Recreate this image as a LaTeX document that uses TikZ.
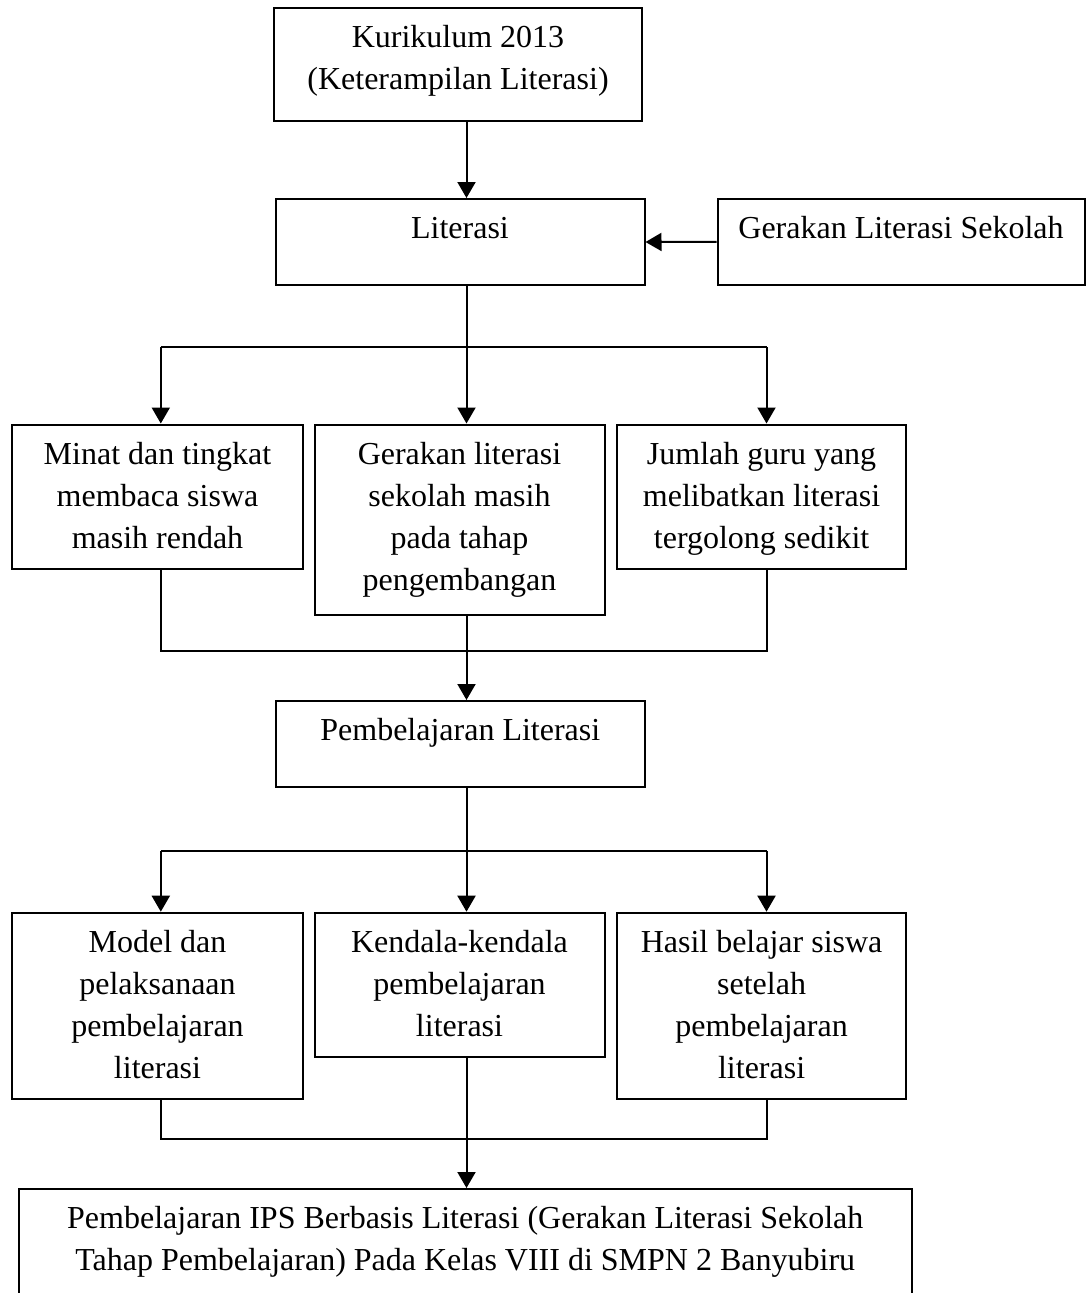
\documentclass[tikz,border=0pt]{standalone}
\usepackage{fontspec}
\setmainfont{Liberation Serif}
\usetikzlibrary{arrows.meta}
\newcommand{\bxt}[3]{\parbox[t][#2pt][t]{#1pt}{\centering\vspace*{10.1pt}\strut #3}}
\begin{document}
\begin{tikzpicture}[x=1pt,y=-1pt,
  box/.style={draw, line width=2pt, inner sep=0pt, font=\fontsize{32}{42}\selectfont},
  conn/.style={line width=2pt},
  arr/.style={line width=2pt, -{Triangle[length=16pt,width=18pt]}}]
\useasboundingbox (0,0) rectangle (1086,1293);

\node[box] (k13) at (458,64.5) {\bxt{368}{113}{Kurikulum 2013\\(Keterampilan Literasi)}};
\node[box] (lit) at (460,242) {\bxt{369}{86}{Literasi}};
\node[box] (gls) at (901,241.75) {\bxt{367}{86}{Gerakan Literasi Sekolah}};

\node[box] (minat) at (157.5,496.75) {\bxt{291}{144.5}{Minat dan tingkat\\membaca siswa\\masih rendah}};
\node[box] (mid) at (459.5,519.75) {\bxt{290}{190.5}{Gerakan literasi\\sekolah masih\\pada tahap\\pengembangan}};
\node[box] (jml) at (761.6,496.75) {\bxt{289.7}{144.5}{Jumlah guru yang\\melibatkan literasi\\tergolong sedikit}};

\node[box] (pl) at (460.3,744) {\bxt{369.3}{86}{Pembelajaran Literasi}};

\node[box] (model) at (157.5,1005.85) {\bxt{291}{186.3}{Model dan\\pelaksanaan\\pembelajaran\\literasi}};
\node[box] (kend) at (459.5,984.85) {\bxt{290}{144.3}{Kendala-kendala\\pembelajaran\\literasi}};
\node[box] (hasil) at (761.6,1005.85) {\bxt{289.7}{186.3}{Hasil belajar siswa\\setelah\\pembelajaran\\literasi}};

\node[box] (fin) at (465.25,1247) {\bxt{893.5}{116}{Pembelajaran IPS Berbasis Literasi (Gerakan Literasi Sekolah\\Tahap Pembelajaran) Pada Kelas VIII di SMPN 2 Banyubiru}};

\coordinate (c) at (466.5,0);
\coordinate (b1) at (160.8,347);
\coordinate (bm) at (466.5,347);
\coordinate (b3) at (766.5,347);
\coordinate (m1) at (160.8,651);
\coordinate (mm) at (466.5,651);
\coordinate (m3) at (766.5,651);
\coordinate (s1) at (160.8,851);
\coordinate (sm) at (466.5,851);
\coordinate (s3) at (766.5,851);
\coordinate (n1) at (160.8,1139);
\coordinate (nm) at (466.5,1139);
\coordinate (n3) at (766.5,1139);

\draw[arr] (k13.south -| c) -- (lit.north -| c);
\draw[arr] (gls.west) -- (lit.east);

\draw[conn] (lit.south -| c) -- (bm);
\draw[conn] (b1) -- (b3);
\draw[arr] (b1) -- (minat.north -| b1);
\draw[arr] (bm) -- (mid.north -| bm);
\draw[arr] (b3) -- (jml.north -| b3);

\draw[conn] (minat.south -| m1) -- (m1) -- (m3) -- (jml.south -| m3);
\draw[conn] (mid.south -| mm) -- (mm);
\draw[arr] (mm) -- (pl.north -| mm);

\draw[conn] (pl.south -| c) -- (sm);
\draw[conn] (s1) -- (s3);
\draw[arr] (s1) -- (model.north -| s1);
\draw[arr] (sm) -- (kend.north -| sm);
\draw[arr] (s3) -- (hasil.north -| s3);

\draw[conn] (model.south -| n1) -- (n1) -- (n3) -- (hasil.south -| n3);
\draw[conn] (kend.south -| nm) -- (nm);
\draw[arr] (nm) -- (fin.north -| nm);
\end{tikzpicture}
\end{document}
